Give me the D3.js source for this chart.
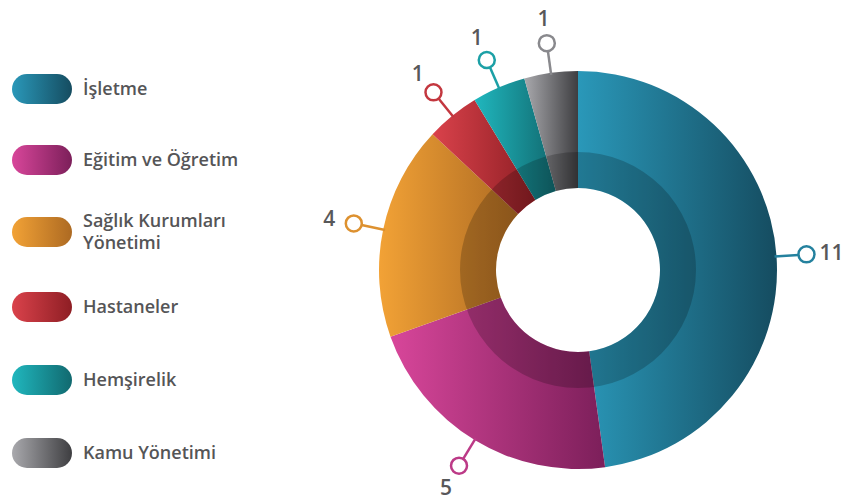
<!DOCTYPE html>
<html>
<head>
<meta charset="utf-8">
<script src="https://cdn.jsdelivr.net/npm/d3@7"></script>
<style>
  body { margin: 0; background: #fff; }
  svg { display: block; font-family: "Open Sans", "Lato", sans-serif; }
</style>
</head>
<body>
<div id="chart"></div>
<script>
// data
var categories = ["İşletme", "Eğitim ve Öğretim", "Sağlık Kurumları Yönetimi", "Hastaneler", "Hemşirelik", "Kamu Yönetimi"];
var values = [11, 5, 4, 1, 1, 1];
var colorsLight = ["#2a98b9", "#d8469a", "#f2a236", "#da424b", "#20b7be", "#a9a9ad"];
var colorsDark  = ["#154c60", "#7c1f5a", "#ad6a22", "#8e1e24", "#11696f", "#3e3e41"];

var width = 847, height = 502;
var cx = 578, cy = 270;
var rOuter = 199, rInner = 82, rBand = 118;

var svg = d3.select("#chart").append("svg")
  .attr("width", width)
  .attr("height", height);

var defs = svg.append("defs");
categories.forEach(function(c, i) {
  var g = defs.append("linearGradient")
    .attr("id", "grad" + i)
    .attr("x1", "0%").attr("x2", "100%")
    .attr("y1", "0%").attr("y2", "0%");
  g.append("stop").attr("offset", "0%").attr("stop-color", colorsLight[i]);
  g.append("stop").attr("offset", "100%").attr("stop-color", colorsDark[i]);
});

// donut
var pie = d3.pie().sort(null).value(function(d) { return d; });
var arcs = pie(values);

var arc = d3.arc().innerRadius(rInner).outerRadius(rOuter);
var band = d3.arc().innerRadius(rInner).outerRadius(rBand);

var donut = svg.append("g").attr("transform", "translate(" + cx + "," + cy + ")");

donut.selectAll(".slice")
  .data(arcs)
  .enter().append("path")
  .attr("class", "slice")
  .attr("d", arc)
  .attr("fill", function(d, i) { return "url(#grad" + i + ")"; });

// darker inner ring
donut.append("path")
  .attr("d", band({ startAngle: 0, endAngle: 2 * Math.PI }))
  .attr("fill", "#000")
  .attr("fill-opacity", 0.2);

// callouts
var rLineEnd = 221, rDot = 229, rLabel = 254;
function mid(d) { return (d.startAngle + d.endAngle) / 2; }
function pt(a, r) { return [Math.sin(a) * r, -Math.cos(a) * r]; }
function ringColor(i) { return d3.interpolateRgb(colorsLight[i], colorsDark[i])(0.3); }

var callout = donut.selectAll(".callout")
  .data(arcs)
  .enter().append("g")
  .attr("class", "callout");

callout.append("line")
  .attr("x1", function(d) { return pt(mid(d), rOuter - 2)[0]; })
  .attr("y1", function(d) { return pt(mid(d), rOuter - 2)[1]; })
  .attr("x2", function(d) { return pt(mid(d), rLineEnd)[0]; })
  .attr("y2", function(d) { return pt(mid(d), rLineEnd)[1]; })
  .attr("stroke", function(d, i) { return ringColor(i); })
  .attr("stroke-width", 2.5);

callout.append("circle")
  .attr("cx", function(d) { return pt(mid(d), rDot)[0]; })
  .attr("cy", function(d) { return pt(mid(d), rDot)[1]; })
  .attr("r", 8)
  .attr("fill", "#fff")
  .attr("stroke", function(d, i) { return ringColor(i); })
  .attr("stroke-width", 2.5);

callout.append("text")
  .attr("x", function(d) { return pt(mid(d), rLabel)[0]; })
  .attr("y", function(d) { return pt(mid(d), rLabel)[1]; })
  .attr("dy", "0.36em")
  .attr("text-anchor", "middle")
  .style("font-size", "21px")
  .style("font-weight", "600")
  .style("fill", "#58585a")
  .text(function(d) { return d.data; });

// legend
var legendY = [89, 160, 232, 307, 380, 453];
var legend = svg.selectAll(".legend")
  .data(categories)
  .enter().append("g")
  .attr("class", "legend")
  .attr("transform", function(d, i) { return "translate(12," + legendY[i] + ")"; });

legend.append("rect")
  .attr("x", 0).attr("y", -15)
  .attr("width", 60).attr("height", 30)
  .attr("rx", 15).attr("ry", 15)
  .attr("fill", function(d, i) { return "url(#grad" + i + ")"; });

legend.each(function(d) {
  var g = d3.select(this);
  var lines = d === "Sağlık Kurumları Yönetimi" ? ["Sağlık Kurumları", "Yönetimi"] : [d];
  var t = g.append("text")
    .style("font-size", "18px")
    .style("font-weight", "600")
    .style("fill", "#555557");
  lines.forEach(function(l, j) {
    t.append("tspan")
      .attr("x", 71)
      .attr("y", (j - (lines.length - 1) / 2) * 22)
      .attr("dy", "0.36em")
      .text(l);
  });
});
</script>
</body>
</html>
